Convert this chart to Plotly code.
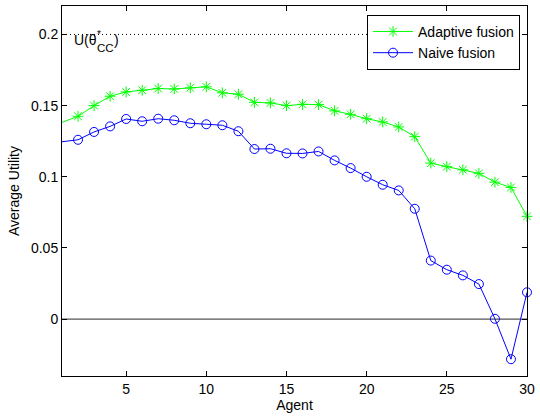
import plotly.graph_objects as go

# Agent index and average utility per fusion scheme
agents = list(range(1, 31))
adaptive_fusion = [0.1382, 0.1425, 0.1500, 0.1566, 0.1596, 0.1608, 0.1620, 0.1617, 0.1625, 0.1632,
                   0.1590, 0.1580, 0.1523, 0.1519, 0.1500, 0.1509, 0.1507, 0.1463, 0.1439, 0.1408,
                   0.1385, 0.1350, 0.1282, 0.1096, 0.1071, 0.1049, 0.1024, 0.0962, 0.0925, 0.0722]
naive_fusion = [0.1246, 0.1260, 0.1315, 0.1354, 0.1406, 0.1390, 0.1408, 0.1397, 0.1376, 0.1369,
                0.1362, 0.1320, 0.1195, 0.1197, 0.1165, 0.1164, 0.1178, 0.1115, 0.1061, 0.1000,
                0.0944, 0.0904, 0.0775, 0.0411, 0.0347, 0.0307, 0.0246, 0.0002, -0.0282, 0.0188]

# Reference utility of the centralized solution
u_cc = 0.2

x_ticks = [5, 10, 15, 20, 25, 30]
y_ticks = [0, 0.05, 0.1, 0.15, 0.2]
y_tick_text = ["0", "0.05", "0.1", "0.15", "0.2"]

FONT = "Liberation Sans, Arial, Helvetica, sans-serif"

series = [
    ("Adaptive fusion", adaptive_fusion, "#00ff00", "asterisk-open"),
    ("Naive fusion", naive_fusion, "#0000ff", "circle-open"),
]

fig = go.Figure()

for name, values, color, symbol in series:
    # the curve enters from the left edge: first segment without a marker
    fig.add_trace(go.Scatter(
        x=agents[:2], y=values[:2], mode="lines", showlegend=False,
        line=dict(color=color, width=1), hoverinfo="skip",
    ))
    fig.add_trace(go.Scatter(
        x=agents[1:], y=values[1:], name=name,
        mode="lines+markers",
        line=dict(color=color, width=1),
        marker=dict(symbol=symbol, size=9, color=color,
                    line=dict(color=color, width=1)),
        cliponaxis=False,
    ))

# Zero baseline and the centralized-utility reference level
fig.add_shape(type="line", xref="x domain", yref="y", x0=0, x1=1, y0=0, y1=0,
              line=dict(color="#555555", width=1.3), layer="below")
fig.add_shape(type="line", xref="x domain", yref="y", x0=0, x1=1, y0=u_cc, y1=u_cc,
              line=dict(color="#000000", width=1, dash="1px,3px"), layer="below")

# U(θ*_CC) label, with the star stacked over the CC subscript
label_parts = [
    ("U(θ", 10, -6, 14),
    ("*", 33, 0, 10),
    ("CC", 33, -14, 11.5),
    (")", 50, -6, 14),
]
for txt, dx, dy, size in label_parts:
    fig.add_annotation(
        x=agents[0], y=u_cc, xref="x", yref="y", text=txt,
        showarrow=False, xanchor="left", yanchor="middle",
        xshift=dx, yshift=dy,
        font=dict(family=FONT, size=size, color="#000000"),
    )

fig.update_layout(
    width=540, height=417,
    margin=dict(l=62, r=9, t=5, b=41),
    paper_bgcolor="white", plot_bgcolor="white",
    font=dict(family=FONT, size=14, color="#000000"),
    showlegend=True,
    legend=dict(
        x=0.985, y=0.976, xanchor="right", yanchor="top",
        bgcolor="white", bordercolor="black", borderwidth=1,
        font=dict(family=FONT, size=14, color="#000000"),
        itemwidth=40, tracegroupgap=0,
    ),
    xaxis=dict(
        range=[1, 30], tickvals=x_ticks,
        ticks="inside", ticklen=5, tickcolor="black",
        showline=True, linecolor="black", linewidth=1, mirror="ticks",
        showgrid=False, zeroline=False,
        title=dict(text="Agent", standoff=4, font=dict(size=14)),
        tickfont=dict(size=14),
    ),
    yaxis=dict(
        range=[-0.04, 0.22], tickvals=y_ticks, ticktext=y_tick_text,
        ticks="inside", ticklen=5, tickcolor="black",
        showline=True, linecolor="black", linewidth=1, mirror="ticks",
        showgrid=False, zeroline=False,
        title=dict(text="Average Utility", standoff=8, font=dict(size=14)),
        tickfont=dict(size=14),
    ),
)

fig.write_html("out.html")
